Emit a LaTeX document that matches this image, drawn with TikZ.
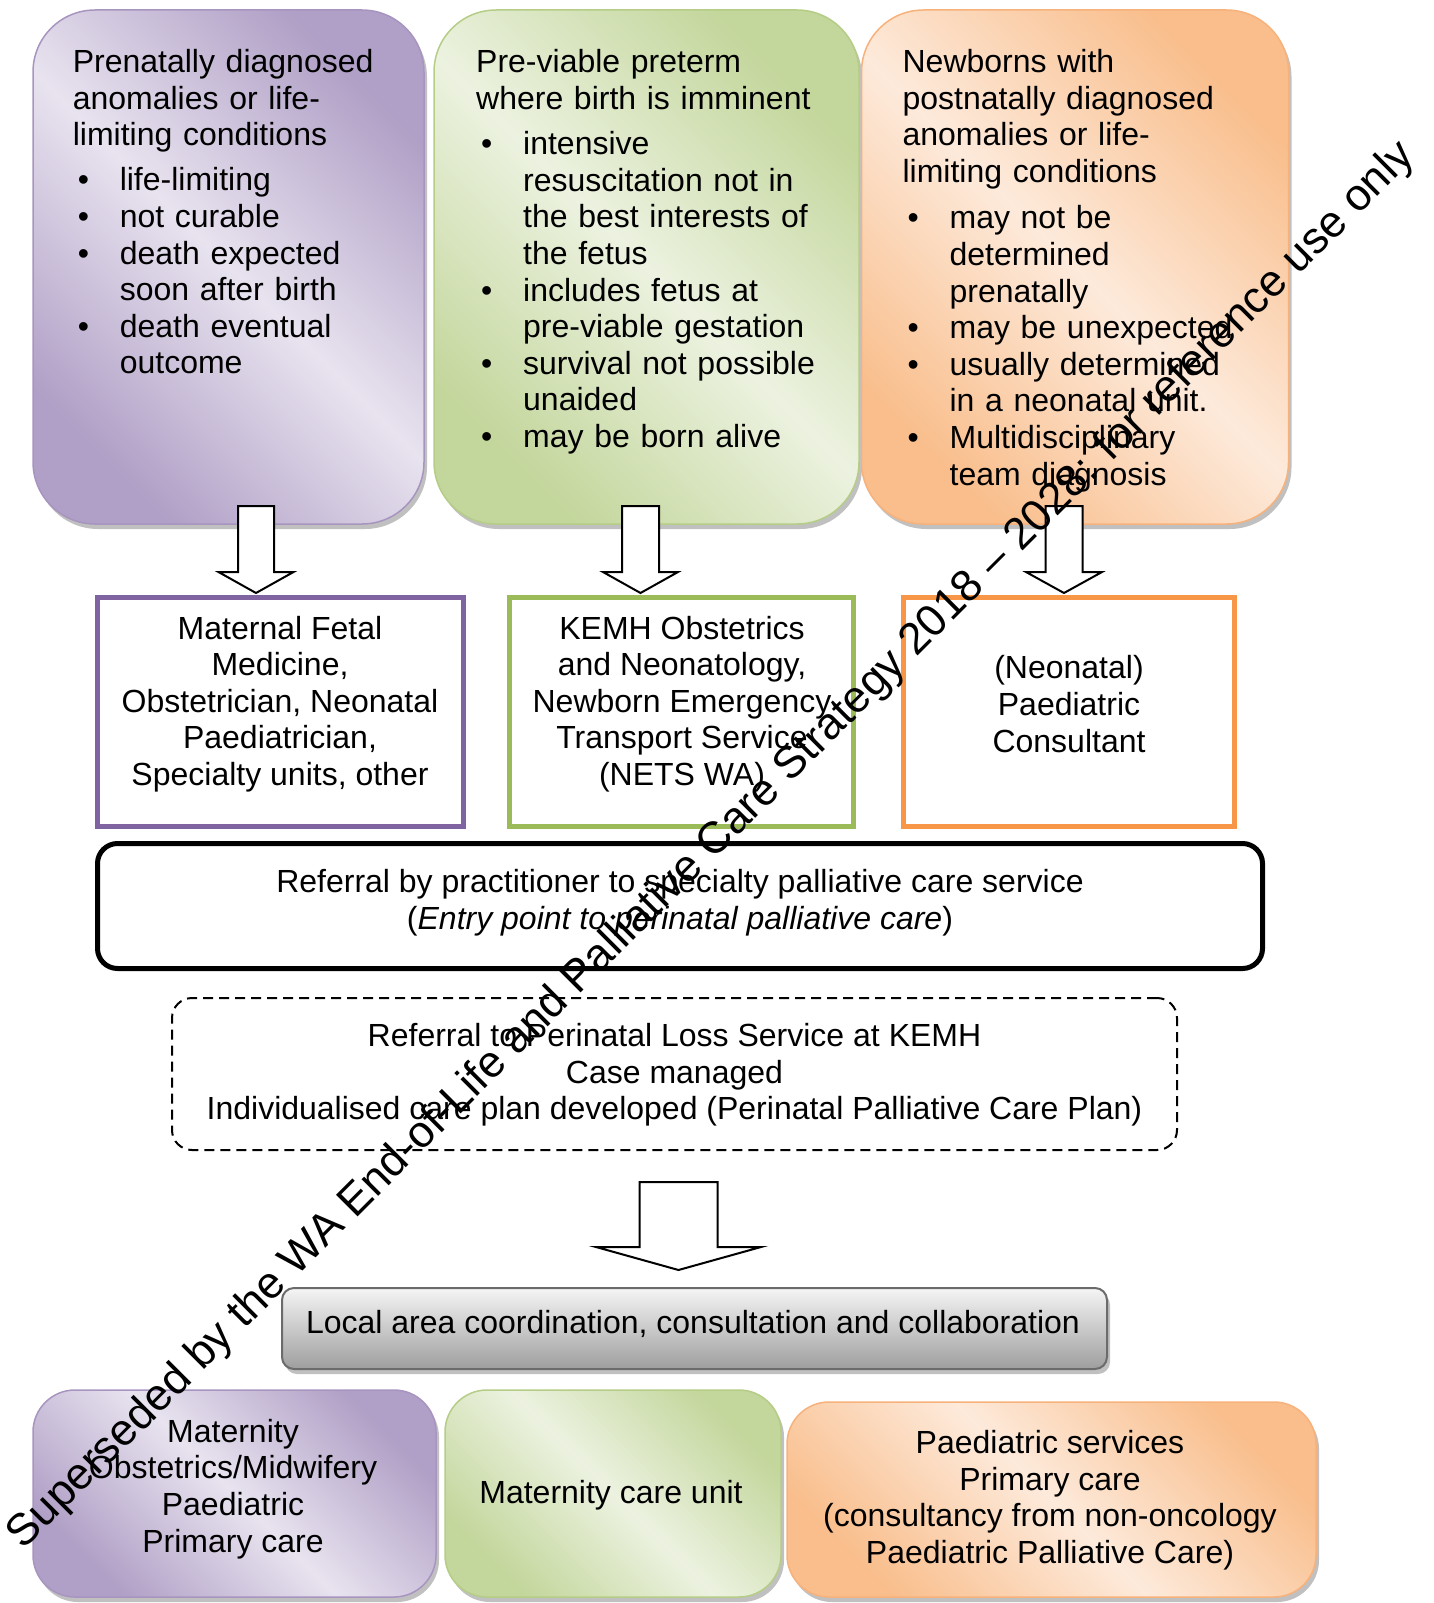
\documentclass[tikz,border=0pt]{standalone}
\usepackage{fontspec}
\setmainfont{Liberation Sans}
\usetikzlibrary{shadows}
\definecolor{purD}{HTML}{B09FC6}
\definecolor{purL}{HTML}{E8E3EF}
\definecolor{purB}{HTML}{A795C0}
\definecolor{greD}{HTML}{C3D69B}
\definecolor{greL}{HTML}{ECF2E0}
\definecolor{greB}{HTML}{B5CD86}
\definecolor{oraD}{HTML}{F9BE8C}
\definecolor{oraL}{HTML}{FDEADB}
\definecolor{oraB}{HTML}{F7B27C}
\definecolor{purS}{HTML}{8064A2}
\definecolor{greS}{HTML}{9BBB59}
\definecolor{oraS}{HTML}{F79646}
\newcommand\bul{\par\hangindent=47pt\hangafter=1\noindent\makebox[47pt][l]{\hspace{5pt}\textbullet}}
\newcommand\blockarr[6]{%
  \draw[barrow] ({#1-#5},#2) -- ({#1+#5},#2) -- ({#1+#5},#3) -- ({#1+#6},#3) -- (#1,#4) -- ({#1-#6},#3) -- ({#1-#5},#3) -- cycle;}
\begin{document}
\begin{tikzpicture}[x=1pt,y=-1pt,
  every node/.style={inner sep=0pt, font=\fontsize{32}{36.6}\selectfont},
  softbox/.style n args={2}{rounded corners=#2, draw=#1B, line width=1.5pt,
    top color=#1D, bottom color=#1D, middle color=#1L, shading angle=-45,
    drop shadow={shadow xshift=3pt, shadow yshift=-5pt, opacity=0.45, fill=black!55}},
  sqbox/.style={draw=#1, line width=4.5pt},
  txtblock/.style={anchor=north west, text width=400pt},
  barrow/.style={draw=black, fill=white, line width=2pt, line join=miter},
]
\useasboundingbox (0,0) rectangle (1434,1603);

% top boxes
\node[softbox={pur}{62pt}, minimum width=391, minimum height=514] (t1) at (228.5,267) {};
\node[softbox={gre}{62pt}, minimum width=425, minimum height=514] (t2) at (646.5,267) {};
\node[softbox={ora}{62pt}, minimum width=427, minimum height=514] (t3) at (1075,267) {};

\node[txtblock] (t1t) at (72.6,46.7) {\raggedright\strut Prenatally diagnosed\\anomalies or life-\\limiting conditions\par\vspace{8.5pt}
\bul life-limiting
\bul not curable
\bul death expected\newline soon after birth
\bul death eventual\newline outcome\par};
\node[txtblock] (t2t) at (476,46.7) {\raggedright\strut Pre-viable preterm\\where birth is imminent\par\vspace{9pt}
\bul intensive\newline resuscitation not in\newline the best interests of\newline the fetus
\bul includes fetus at\newline pre-viable gestation
\bul survival not possible\newline unaided
\bul may be born alive\par};
\node[txtblock] (t3t) at (902.4,46.7) {\raggedright\strut Newborns with\\postnatally diagnosed\\anomalies or life-\\limiting conditions\par\vspace{10pt}
\bul may not be\newline determined\newline prenatally
\bul may be unexpected
\bul usually determined\newline in a neonatal unit.
\bul Multidisciplinary\newline team diagnosis\par};

% block arrows top -> middle
\blockarr{256}{506}{572}{593}{18}{37.5}
\blockarr{640.5}{506}{572}{593}{18.5}{37.5}
\blockarr{1064}{506}{572}{593}{18.5}{38}

% middle boxes
\node[sqbox=purS, minimum width=366, minimum height=229] (m1) at (280.5,712) {};
\node[sqbox=greS, minimum width=344, minimum height=229] (m2) at (681.5,712) {};
\node[sqbox=oraS, minimum width=331, minimum height=229] (m3) at (1069,712) {};
\node[align=center] (m1t) at (280,704) {Maternal Fetal\\Medicine,\\Obstetrician, Neonatal\\Paediatrician,\\Specialty units, other};
\node[align=center] (m2t) at (682,704) {KEMH Obstetrics\\and Neonatology,\\Newborn Emergency\\Transport Service\\(NETS WA)};
\node[align=center] (m3t) at (1069,704) {(Neonatal)\\Paediatric\\Consultant};

% referral box
\node[draw=black, line width=5pt, rounded corners=20pt, minimum width=1165, minimum height=125] (ref) at (680,906) {};
\node[align=center] (reft) at (680,903) {Referral by practitioner to specialty palliative care service\\(\textit{Entry point to perinatal palliative care})};

% dashed box
\node[draw=black, line width=2pt, dash pattern=on 10pt off 6pt, rounded corners=20pt, minimum width=1005, minimum height=152] (pl) at (674.5,1074) {};
\node[align=center] (plt) at (674.5,1075) {Referral to Perinatal Loss Service at KEMH\\Case managed\\Individualised care plan developed (Perinatal Palliative Care Plan)};

% block arrow down
\blockarr{678.5}{1182}{1247}{1270}{39}{82.5}

% local area box
\node[rounded corners=12pt, draw=black!58, line width=2pt, top color=black!4, bottom color=black!38,
  drop shadow={shadow xshift=3pt, shadow yshift=-5pt, opacity=0.45, fill=black!55},
  minimum width=825, minimum height=81] (loc) at (694.5,1328.5) {};
\node (loct) at (693,1324) {Local area coordination, consultation and collaboration};

% bottom boxes
\node[softbox={pur}{42pt}, minimum width=403, minimum height=207] (b1) at (234.5,1493.5) {};
\node[softbox={gre}{42pt}, minimum width=336, minimum height=207] (b2) at (613,1493.5) {};
\node[softbox={ora}{42pt}, minimum width=529, minimum height=195] (b3) at (1051.5,1499.5) {};
\node[align=center] (b1t) at (233,1489) {Maternity\\Obstetrics/Midwifery\\Paediatric\\Primary care};
\node[align=center] (b2t) at (611,1495) {Maternity care unit};
\node[align=center] (b3t) at (1050,1500) {Paediatric services\\Primary care\\(consultancy from non-oncology\\Paediatric Palliative Care)};

% watermark
\node[rotate=45, font=\fontsize{44.5}{50}\selectfont] (wm) at (712,846) {Superseded by the WA End-of-Life and Palliative Care Strategy 2018 – 2028: for reference use only};
\end{tikzpicture}
\end{document}
